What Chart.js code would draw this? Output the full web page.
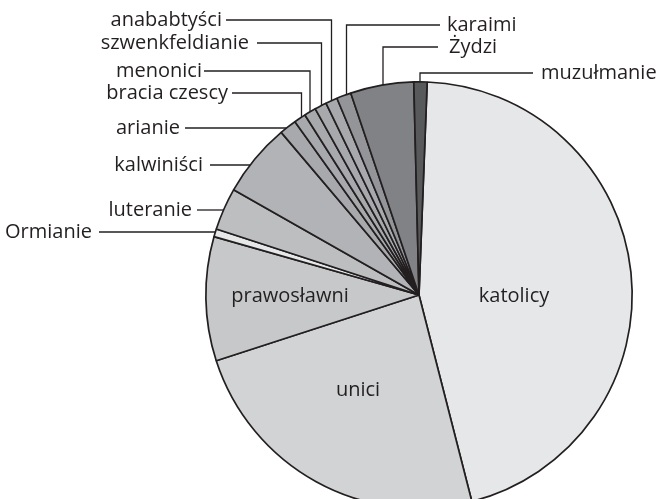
<!DOCTYPE html>
<html>
<head>
<meta charset="utf-8">
<script src="https://cdn.jsdelivr.net/npm/chart.js@4/dist/chart.umd.min.js"></script>
<style>
  html, body { margin: 0; padding: 0; background: #fff; overflow: hidden; }
  #wrap { position: relative; width: 657px; height: 530px; }
</style>
</head>
<body>
<div id="wrap"><canvas id="pie"></canvas></div>
<script>
// religious groups, clockwise from the top
const GROUPS = [
  "katolicy", "unici", "prawosławni", "Ormianie", "luteranie", "kalwiniści",
  "arianie", "bracia czescy", "menonici", "szwenkfeldianie", "anababtyści",
  "karaimi", "Żydzi", "muzułmanie",
];
// share of population, %
const SHARES = [45.4, 24.0, 9.4, 0.6, 3.2, 5.6, 1.3, 0.9, 0.9, 0.9, 0.9, 1.1, 4.8, 1.0];
const FILLS = [
  "#e6e7e8", "#d1d3d4", "#c7c8ca", "#e6e7e8", "#bcbec0", "#b1b3b6",
  "#a7a9ac", "#a7a9ac", "#a7a9ac", "#a7a9ac", "#a7a9ac",
  "#939598", "#808285", "#58595b",
];

const INK = "#231f20";
const FONT = '20px "Open Sans"';

// label placement: "in" = inside slice (offset from centre),
// "top" = leader drops vertically at legX onto the arc, then runs sideways to the text,
// "side" = horizontal leader at height y running into the arc
const LABEL_LAYOUT = {
  "katolicy": { kind: "in", dx: 95, dy: 1 },
  "unici": { kind: "in", dx: -61, dy: 95 },
  "prawosławni": { kind: "in", dx: -129, dy: 1 },
  "Ormianie": { kind: "side", textX: 92, lineFrom: 99, y: 232 },
  "luteranie": { kind: "side", textX: 192, lineFrom: 197, y: 210 },
  "kalwiniści": { kind: "side", textX: 203, lineFrom: 210, y: 165 },
  "arianie": { kind: "side", textX: 180, lineFrom: 185, y: 128 },
  "bracia czescy": { kind: "top", textX: 228, y: 93, lineFrom: 232, legX: 301.5, align: "right" },
  "menonici": { kind: "top", textX: 202, y: 71, lineFrom: 204, legX: 310, align: "right" },
  "szwenkfeldianie": { kind: "top", textX: 249, y: 43, lineFrom: 257, legX: 321.5, align: "right" },
  "anababtyści": { kind: "top", textX: 222, y: 20, lineFrom: 226, legX: 331.5, align: "right" },
  "karaimi": { kind: "top", textX: 447, y: 25, lineFrom: 440, legX: 346.5, align: "left" },
  "Żydzi": { kind: "top", textX: 449, y: 47, lineFrom: 438, legX: 383, align: "left" },
  "muzułmanie": { kind: "top", textX: 541, y: 73, lineFrom: 533, legX: 420, align: "left" },
};

const pieLabels = {
  id: "pieLabels",
  afterDatasetsDraw(chart) {
    const ctx = chart.ctx;
    const arcs = chart.getDatasetMeta(0).data;
    ctx.save();
    ctx.font = FONT;
    ctx.fillStyle = INK;
    ctx.strokeStyle = INK;
    ctx.lineWidth = 1.3;
    ctx.textBaseline = "middle";
    arcs.forEach((arc, i) => {
      const name = GROUPS[i];
      const lay = LABEL_LAYOUT[name];
      const { x, y, outerRadius: r } = arc.getProps(["x", "y", "outerRadius"], true);
      if (lay.kind === "in") {
        ctx.textAlign = "center";
        ctx.fillText(name, x + lay.dx, y + lay.dy);
      } else if (lay.kind === "side") {
        const ax = x - Math.sqrt(r * r - (lay.y - y) ** 2);
        ctx.beginPath();
        ctx.moveTo(lay.lineFrom, lay.y);
        ctx.lineTo(ax, lay.y);
        ctx.stroke();
        ctx.textAlign = "right";
        ctx.fillText(name, lay.textX, lay.y);
      } else {
        const ay = y - Math.sqrt(r * r - (lay.legX - x) ** 2);
        ctx.beginPath();
        ctx.moveTo(lay.lineFrom, lay.y);
        ctx.lineTo(lay.legX, lay.y);
        ctx.lineTo(lay.legX, ay);
        ctx.stroke();
        ctx.textAlign = lay.align;
        ctx.fillText(name, lay.textX, lay.y);
      }
    });
    ctx.restore();
  },
};

new Chart(document.getElementById("pie"), {
  type: "pie",
  data: {
    labels: GROUPS,
    datasets: [{
      data: SHARES,
      backgroundColor: FILLS,
      borderColor: INK,
      borderWidth: 1.7,
    }],
  },
  options: {
    responsive: true,
    maintainAspectRatio: false,
    animation: false,
    rotation: 2.2,
    layout: { padding: { left: 205, right: 24, top: 81, bottom: 21 } },
    plugins: { legend: { display: false }, tooltip: { enabled: false } },
  },
  plugins: [pieLabels],
});
</script>
</body>
</html>
